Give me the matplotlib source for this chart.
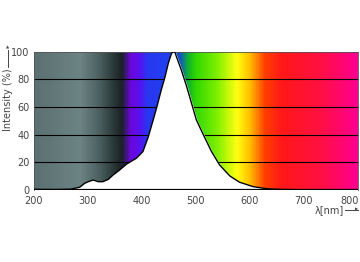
import numpy as np
import matplotlib.pyplot as plt
from matplotlib.colors import LinearSegmentedColormap

# emission spectrum
wavelength = [200, 240, 267, 285, 294, 301, 310, 319, 328, 338, 347, 359, 372,
              390, 402, 412, 421, 428, 436, 443, 449, 455, 458, 461, 464, 473,
              483, 492, 501, 514, 529, 544, 563, 581, 606, 631, 656, 700, 800]
intensity = [0.4, 0.3, 0.5, 2, 4.8, 6, 7.2, 6, 6, 7.7, 10.9, 14.5, 18.8,
             23, 27.8, 38.6, 50.7, 60.4, 72.5, 82, 91.8, 99, 100, 100, 96.6, 87,
             74.9, 62.8, 50.7, 39.9, 27.8, 18.1, 10.1, 5.6, 2.4, 0.9, 0.4, 0.1, 0]

# background spectrum colour stops (nm, colour)
stop_nm = [200, 285, 320, 345, 362, 378, 395, 410, 450, 470, 485, 500, 540,
           576, 600, 628, 660, 730, 800]
stop_col = ['#5b7171', '#6d8484', '#4c6060', '#2c3a3a', '#1a2222', '#6a08d8',
            '#5a10f0', '#2838f0', '#2040f0', '#1050c8', '#10b030', '#30d800',
            '#80f000', '#ffff10', '#ffc000', '#ff4000', '#ff1818', '#ff1040',
            '#ff0090']

yticks = [0, 20, 40, 60, 80, 100]
xticks = [200, 300, 400, 500, 600, 700, 800]

pos = [(v - 200) / 600 for v in stop_nm]
cmap = LinearSegmentedColormap.from_list('spec', list(zip(pos, stop_col)))

fig = plt.figure(figsize=(3.6, 2.62), dpi=100)
ax = fig.add_axes([0.094, 0.275, 0.9, 0.527])

grad = np.linspace(0, 1, 600).reshape(1, -1)
ax.imshow(grad, cmap=cmap, extent=[200, 800, 0, 100], aspect='auto', zorder=0)
for yv in yticks[1:-1]:
    ax.axhline(yv, color='black', lw=0.8, zorder=1)
ax.fill_between(wavelength, intensity, 0, color='white', zorder=2)
ax.plot(wavelength, intensity, color='black', lw=1.0, zorder=3)
ax.axhline(0, color='black', lw=1.6, zorder=4)

ax.set_xlim(200, 800)
ax.set_ylim(0, 100)
ax.set_xticks(xticks)
ax.set_yticks(yticks)
ax.tick_params(length=0, labelsize=7, colors='#444444')
ax.tick_params(axis='x', pad=4)
ax.tick_params(axis='y', pad=3)
ax.set_xticklabels([str(t) for t in xticks[:-1]] + [''])
for s in ['top', 'right', 'left']:
    ax.spines[s].set_color('#555555')
    ax.spines[s].set_linewidth(0.6)
ax.spines['bottom'].set_visible(False)
# last x label sits flush with the right edge like the reference
fig.text(0.996, 0.25, '800', fontsize=7, color='#444444', ha='right', va='top')

# axis labels with arrows
fig.text(0.022, 0.62, 'Intensity (%)', rotation=90, fontsize=7, color='#444444',
         ha='center', va='center')
fig.add_artist(plt.Line2D([0.022, 0.022], [0.745, 0.81], color='#444444', lw=0.7))
fig.text(0.022, 0.82, '\u25b2', fontsize=3, color='#444444', ha='center', va='center')
fig.text(0.955, 0.2, 'λ[nm]', fontsize=7, color='#444444', ha='right', va='center')
fig.add_artist(plt.Line2D([0.957, 0.995], [0.2, 0.2], color='#444444', lw=0.7))
fig.text(0.996, 0.2, '\u25b6', fontsize=3, color='#444444', ha='right', va='center')

fig.savefig('out.png', dpi=100)
